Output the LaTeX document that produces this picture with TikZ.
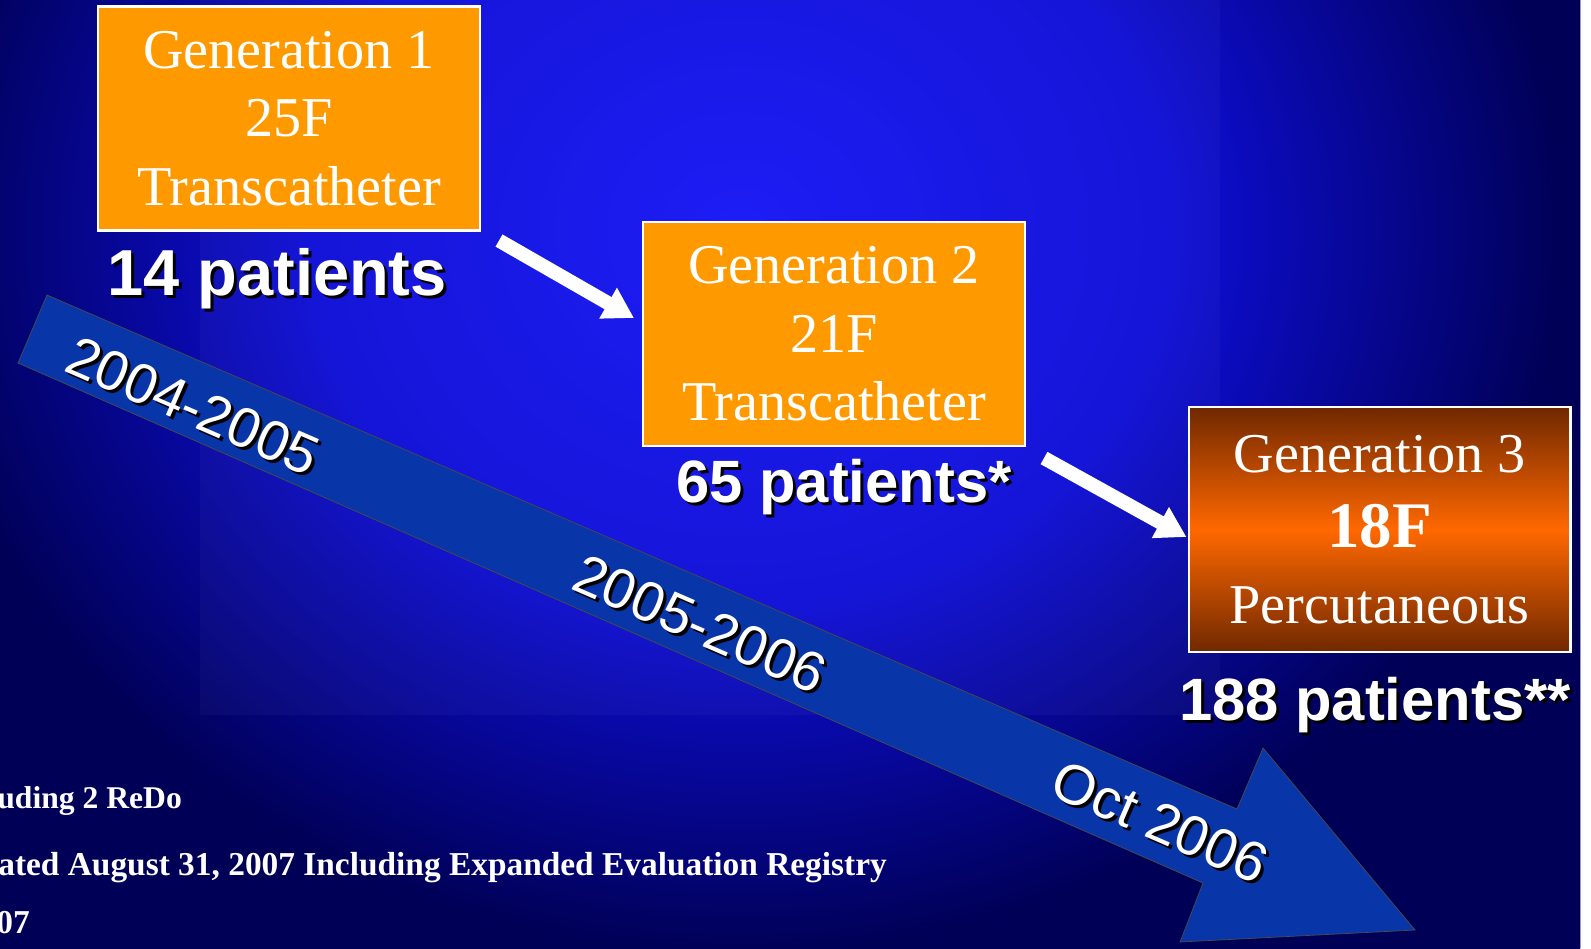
\documentclass[tikz,border=0pt]{standalone}
\usepackage{fontspec}
\setmainfont{Liberation Serif}
\newfontfamily\arialf{Liberation Sans}
\usetikzlibrary{arrows.meta,calc}
\definecolor{bgA}{RGB}{22,22,246}
\definecolor{bgB}{RGB}{14,14,215}
\definecolor{bgC}{RGB}{0,0,86}
\definecolor{orng}{RGB}{255,153,0}
\definecolor{brn}{RGB}{112,40,0}
\definecolor{org3}{RGB}{255,104,0}
\definecolor{arrowblue}{RGB}{8,54,168}
\definecolor{edgeline}{RGB}{150,150,205}
\pgfdeclareradialshading{bgrad}{\pgfpoint{0bp}{0bp}}{color(0bp)=(bgA); color(6.5bp)=(bgB); color(12.5bp)=(bgC); color(50bp)=(bgC)}
\begin{document}
\begin{tikzpicture}[x=0.02cm,y=-0.02cm,
  genbox/.style={draw=white, line width=1.2pt, minimum width=7.64cm, minimum height=4.48cm, inner sep=0pt, align=center, text=white, font=\fontsize{32}{39}\selectfont},
  pat/.style={font=\arialf\bfseries\fontsize{34}{40}\selectfont, text=white, anchor=base, inner sep=0pt},
  patshadow/.style={pat, text=black},
  datelbl/.style={font=\arialf\fontsize{32}{36}\selectfont, text=white, rotate=-23.5, inner sep=0pt},
  dateshadow/.style={datelbl, text=black},
  note/.style={font=\bfseries\fontsize{19}{22}\selectfont, text=white, anchor=base west, inner sep=0pt},
  conn/.style={white, line width=8pt, -{Triangle[width=19pt,length=17pt]}},
]
\useasboundingbox (0,0) rectangle (1591,948);
% background
\begin{scope}
  \clip (0,0) rectangle (1580,948);
  \fill[bgC] (0,0) rectangle (1580,948);
  \shade[shading=bgrad] (740,230) ellipse [x radius=33cm, y radius=29cm];
  \fill[white, opacity=0.03] (200,0) rectangle (1220,715);
\end{scope}
\fill[white] (1580,0) rectangle (1591,948);
\draw[edgeline, line width=0.6pt] (1580.5,0) -- (1580.5,948);

% big timeline arrow
\coordinate (ta) at (47,295);
\coordinate (sa) at (1237,809);
\coordinate (ha) at (1263,748);
\coordinate (tip) at (1415,930);
\coordinate (hb) at (1180,942);
\coordinate (sb) at (1203,883);
\coordinate (tb) at (18,363);
\fill[black, shift={(5,6)}] (ta) -- (sa) -- (ha) -- (tip) -- (hb) -- (sb) -- (tb) -- cycle;
\fill[arrowblue, draw=black!70, line width=0.4pt] (ta) -- (sa) -- (ha) -- (tip) -- (hb) -- (sb) -- (tb) -- cycle;

% date labels
\node[dateshadow] (d1s) at (196,409) {2004-2005};
\node[datelbl] (d1) at (193,406) {2004-2005};
\node[dateshadow] (d2s) at (703,627) {2005-2006};
\node[datelbl] (d2) at (700,624) {2005-2006};
\node[dateshadow] (d3s) at (1163,825) {Oct 2006};
\node[datelbl] (d3) at (1160,822) {Oct 2006};

% generation boxes
\node[genbox, fill=orng] (g1) at (289,118.5) {Generation 1\\25F\\Transcatheter};
\node[genbox, fill=orng] (g2) at (834,334) {Generation 2\\21F\\Transcatheter};
\node[genbox, top color=brn, bottom color=brn, middle color=org3, minimum height=4.9cm, font=\fontsize{32}{43}\selectfont] (g3) at (1379.5,529.5) {Generation 3\\{\bfseries\fontsize{37}{43}\selectfont 18F}\\Percutaneous};

% patients labels
\node[patshadow, font=\arialf\bfseries\fontsize{37}{40}\selectfont] (p1s) at (280,298) {14 patients};
\node[pat, font=\arialf\bfseries\fontsize{37}{40}\selectfont] (p1) at (277,295) {14 patients};
\node[patshadow] (p2s) at (847,505) {65 patients*};
\node[pat] (p2) at (844,502) {65 patients*};
\node[patshadow] (p3s) at (1378,723) {188 patients**};
\node[pat] (p3) at (1375,720) {188 patients**};

% connectors
\draw[conn] ($(g1.south east)+(18,9)$) -- ($(g2.west)+(-8,-16)$);
\draw[conn] ($(g2.south east)+(18,11)$) -- ($(g3.west)+(-1,7.5)$);

% footnotes
\node[note, font=\bfseries\fontsize{18}{22}\selectfont] (n1) at (-3,808) {uding 2 ReDo};
\node[note] (n2) at (-2,875) {ated August 31, 2007 Including Expanded Evaluation Registry};
\node[note] (n3) at (-4,933) {07};
\end{tikzpicture}
\end{document}
